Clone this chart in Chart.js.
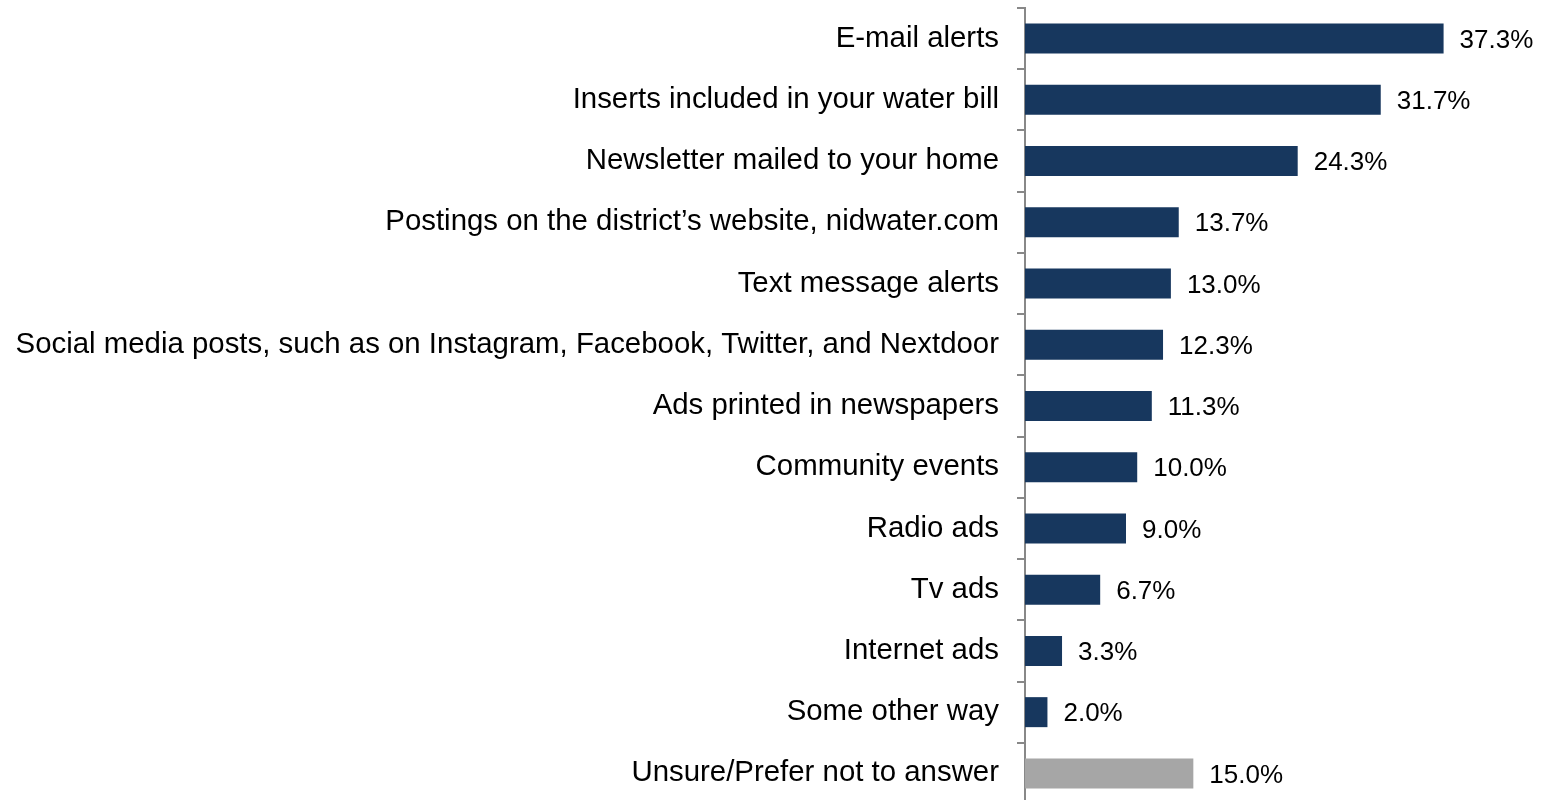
<!DOCTYPE html>
<html>
<head>
<meta charset="utf-8">
<script src="https://cdn.jsdelivr.net/npm/chart.js"></script>
<style>
  html, body { margin: 0; padding: 0; background: #fff; overflow: hidden; }
  #wrap { width: 1541px; height: 804px; position: relative; }
</style>
</head>
<body>
<div id="wrap"><canvas id="chart"></canvas></div>
<script>
    const labels = [
        'E-mail alerts',
        'Inserts included in your water bill',
        'Newsletter mailed to your home',
        'Postings on the district\u2019s website, nidwater.com',
        'Text message alerts',
        'Social media posts, such as on Instagram, Facebook, Twitter, and Nextdoor',
        'Ads printed in newspapers',
        'Community events',
        'Radio ads',
        'Tv ads',
        'Internet ads',
        'Some other way',
        'Unsure/Prefer not to answer'
    ];
    const values = [37.3, 31.7, 24.3, 13.7, 13.0, 12.3, 11.3, 10.0, 9.0, 6.7, 3.3, 2.0, 15.0];
    const barColors = labels.map(l => l.startsWith('Unsure') ? '#A6A6A6' : '#17375E');

    // percent labels to the right of each bar
    const valueLabels = {
        id: 'valueLabels',
        afterDatasetsDraw(chart) {
            const c = chart.ctx;
            const meta = chart.getDatasetMeta(0);
            c.save();
            c.font = '26px "Liberation Sans", Arial, sans-serif';
            c.fillStyle = '#000';
            c.textBaseline = 'middle';
            c.textAlign = 'left';
            meta.data.forEach((bar, i) => {
                c.fillText(values[i].toFixed(1) + '%', bar.x + 16, bar.y + 2);
            });
            c.restore();
        }
    };

    new Chart(document.getElementById('chart'), {
        type: 'bar',
        data: {
            labels: labels,
            datasets: [{
                data: values,
                backgroundColor: barColors,
                barPercentage: 0.49,
                categoryPercentage: 1
            }]
        },
        options: {
            indexAxis: 'y',
            responsive: true,
            maintainAspectRatio: false,
            animation: false,
            layout: { padding: { top: 8, right: 11, left: 0, bottom: 0 } },
            plugins: {
                legend: { display: false },
                tooltip: { enabled: false }
            },
            scales: {
                x: { display: false, min: 0, max: 45 },
                y: {
                    afterFit(scale) {
                        scale.width = 1025;
                        scale.paddingTop = 0;
                        scale.paddingBottom = 0;
                    },
                    grid: {
                        offset: true,
                        drawOnChartArea: false,
                        tickLength: 8,
                        color: '#888888',
                        lineWidth: 2
                    },
                    border: { display: true, color: '#888888', width: 2 },
                    ticks: {
                        color: '#000',
                        padding: 18,
                        font: { family: '"Liberation Sans", Arial, sans-serif', size: 29.4 }
                    }
                }
            }
        },
        plugins: [valueLabels]
    });
</script>
</body>
</html>
